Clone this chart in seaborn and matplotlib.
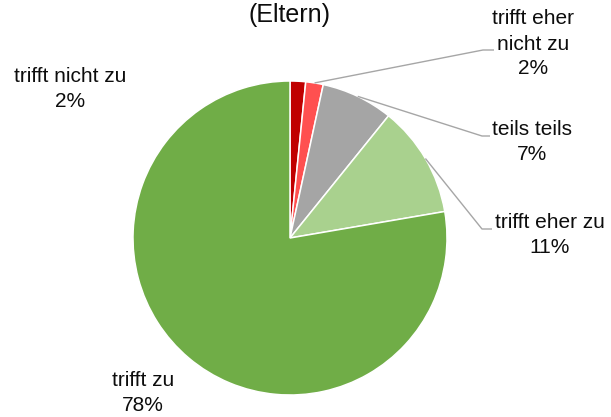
import matplotlib
matplotlib.use("Agg")
import matplotlib.pyplot as plt
import seaborn as sns
import numpy as np

sns.set_theme(style="white")
plt.rcParams['font.family'] = ['Liberation Sans', 'DejaVu Sans']

# Data
categories = ["trifft nicht zu", "trifft eher\nnicht zu", "teils teils", "trifft eher zu", "trifft zu"]
values = [1.6, 1.8, 7.4, 11.5, 77.7]
pct_labels = ["2%", "2%", "7%", "11%", "78%"]
colors = ["#C00000", "#FF5050", "#A5A5A5", "#A9D18E", "#70AD47"]
title = "(Eltern)"

W, H = 611, 417
fig = plt.figure(figsize=(W / 100, H / 100), dpi=100)
cx, cy, R = 290, 238, 157
ax = fig.add_axes([(cx - R) / W, (H - cy - R) / H, 2 * R / W, 2 * R / H])

wedges, _ = ax.pie(values, colors=colors, startangle=90, counterclock=False,
                   wedgeprops=dict(edgecolor="white", linewidth=1.1))
ax.set_xlim(-1, 1)
ax.set_ylim(-1, 1)
ax.set_aspect("equal")
ax.axis("off")

def px(x, y):
    return ((x - cx) / R, (cy - y) / R)

# label positions (pixel -> data), leader elbows
label_pos = [px(70, 89), px(533, 44), px(532, 142), px(550, 235), px(143, 393)]
elbows = [None, (px(483, 50), px(494, 50)), (px(482, 136), px(490, 136)),
          (px(482, 229), px(492, 229)), None]

total = sum(values)
cum = 0
for i, v in enumerate(values):
    mid = (cum + v / 2) / total * 360
    cum += v
    ang = np.deg2rad(90 - mid)
    sx, sy = np.cos(ang), np.sin(ang)
    tx, ty = label_pos[i]
    ax.text(tx, ty, f"{categories[i]}\n{pct_labels[i]}", ha="center", va="center",
            fontsize=15, color="#0d0d0d", linespacing=1.4, clip_on=False)
    if elbows[i] is not None:
        (ex, ey), (fx, fy) = elbows[i]
        ax.plot([sx, ex, fx], [sy, ey, fy], color="#A6A6A6", lw=1.0, clip_on=False,
                solid_capstyle="butt")

fig.text(cx / W, 1 - 15 / H, title, ha="center", va="center", fontsize=18, color="#0d0d0d")

fig.savefig("out.png", dpi=100)
